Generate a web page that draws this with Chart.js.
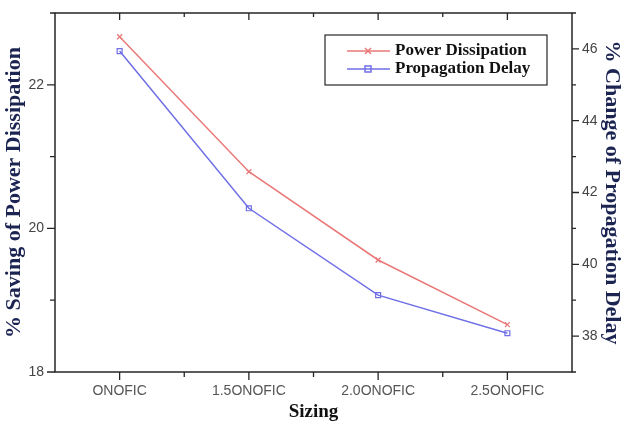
<!DOCTYPE html>
<html>
<head>
<meta charset="utf-8">
<script src="https://cdn.jsdelivr.net/npm/chart.js@4"></script>
<style>
  html, body { margin:0; padding:0; background:#fff; }
  #wrap { width:625px; height:423px; position:relative; }
</style>
</head>
<body>
<div id="wrap"><canvas id="chart"></canvas></div>
<script>
const SIZING = ['ONOFIC', '1.5ONOFIC', '2.0ONOFIC', '2.5ONOFIC'];
const POWER_SAVING = [22.67, 20.79, 19.56, 18.66];   // left axis
const DELAY_CHANGE = [45.94, 41.56, 39.14, 38.08];   // right axis
const LEFT_RANGE = [18, 23];
const RIGHT_RANGE = [37, 47];

const RED = '#ea7878', BLUE = '#6f6fe6';
const FRAME = '#262626';
const SERIF = '"Liberation Serif", "DejaVu Serif", serif';
const SANS = '"Liberation Sans", Arial, sans-serif';

// frame, minor ticks, top ticks and the boxed legend, like the original plot
const frameTicks = {
  id:'frameTicks',
  afterDraw(chart) {
    const {ctx, chartArea:a, scales} = chart;
    ctx.save();
    ctx.strokeStyle = FRAME; ctx.lineWidth = 1.5;
    ctx.strokeRect(a.left, a.top, a.right - a.left, a.bottom - a.top);
    ctx.lineWidth = 1.3;
    ctx.beginPath();
    const L = scales.y, R = scales.y1, X = scales.x;
    for (let v = LEFT_RANGE[0]; v <= LEFT_RANGE[1]; v++) {
      const p = L.getPixelForValue(v), len = v % 2 === 0 ? 8 : 5;
      ctx.moveTo(a.left - len, p); ctx.lineTo(a.left, p);
    }
    for (let v = RIGHT_RANGE[0]; v <= RIGHT_RANGE[1]; v++) {
      const p = R.getPixelForValue(v), len = v % 2 === 0 ? 7 : 4;
      ctx.moveTo(a.right, p); ctx.lineTo(a.right + len, p);
    }
    SIZING.forEach((s, i) => {
      const p = X.getPixelForValue(i);
      ctx.moveTo(p, a.bottom); ctx.lineTo(p, a.bottom + 8);
      ctx.moveTo(p, a.top); ctx.lineTo(p, a.top + 7);
      if (i > 0) {
        const m = (p + X.getPixelForValue(i - 1)) / 2;
        ctx.moveTo(m, a.bottom); ctx.lineTo(m, a.bottom + 5);
        ctx.moveTo(m, a.top); ctx.lineTo(m, a.top + 4);
      }
    });
    ctx.stroke();

    // legend box
    const bx = 325, by = 35, bw = 222, bh = 50;
    ctx.lineWidth = 1.2;
    ctx.strokeRect(bx, by, bw, bh);
    const rows = [[ 'Power Dissipation', RED, 'x' ], [ 'Propagation Delay', BLUE, 's' ]];
    rows.forEach(([label, col, mk], i) => {
      const y = by + 16 + i * 18;
      ctx.strokeStyle = col; ctx.lineWidth = 1.5;
      ctx.beginPath(); ctx.moveTo(bx + 22, y); ctx.lineTo(bx + 65, y); ctx.stroke();
      const cx = bx + 43;
      ctx.beginPath();
      if (mk === 'x') { ctx.moveTo(cx-3,y-3); ctx.lineTo(cx+3,y+3); ctx.moveTo(cx+3,y-3); ctx.lineTo(cx-3,y+3); }
      else ctx.rect(cx-3, y-3, 6, 6);
      ctx.stroke();
      ctx.fillStyle = '#111';
      ctx.font = 'bold 17px ' + SERIF;
      ctx.textBaseline = 'middle';
      ctx.fillText(label, bx + 70, y);
    });
    ctx.restore();
  }
};

new Chart(document.getElementById('chart'), {
  type:'line',
  data:{
    labels:SIZING,
    datasets:[
      { label:'Power Dissipation', data:POWER_SAVING, yAxisID:'y', borderColor:RED, backgroundColor:RED,
        borderWidth:1.5, pointStyle:'crossRot', pointRadius:3.5, pointBorderWidth:1.3, tension:0 },
      { label:'Propagation Delay', data:DELAY_CHANGE, yAxisID:'y1', borderColor:BLUE, backgroundColor:'rgba(255,255,255,0)',
        borderWidth:1.5, pointStyle:'rect', pointRadius:3.5, pointBorderWidth:1.2, tension:0 }
    ]
  },
  options:{
    responsive:true, maintainAspectRatio:false, animation:false,
    layout:{padding:{top:13, left:0, right:0, bottom:0}},
    plugins:{legend:{display:false}, tooltip:{enabled:false}},
    scales:{
      x:{
        offset:true,
        grid:{display:false}, border:{display:false},
        ticks:{color:'#555', font:{family:SANS, size:14}, padding:3, maxRotation:0},
        title:{display:true, text:'Sizing', color:'#111', font:{family:SERIF, size:19, weight:'bold'}, padding:{top:0, bottom:0}},
        afterFit(s) { s.height = 51; }
      },
      y:{
        position:'left', min:LEFT_RANGE[0], max:LEFT_RANGE[1],
        grid:{display:false}, border:{display:false},
        ticks:{stepSize:1, color:'#444', font:{family:SANS, size:14}, padding:3,
          callback:v => v % 2 === 0 ? v : ''},
        title:{display:true, text:'% Saving of Power Dissipation', color:'#1c2452', font:{family:SERIF, size:22, weight:'bold'}, padding:{top:1, bottom:0}},
        afterFit(s) { s.width = 55; }
      },
      y1:{
        position:'right', min:RIGHT_RANGE[0], max:RIGHT_RANGE[1],
        grid:{display:false}, border:{display:false},
        ticks:{stepSize:1, color:'#444', font:{family:SANS, size:14}, padding:2,
          callback:v => v % 2 === 0 ? v : ''},
        title:{display:true, text:'% Change of Propagation Delay', color:'#1c2452', font:{family:SERIF, size:22, weight:'bold'}, padding:{top:0, bottom:0}},
        afterFit(s) { s.width = 53; }
      }
    }
  },
  plugins:[frameTicks]
});
</script>
</body>
</html>
